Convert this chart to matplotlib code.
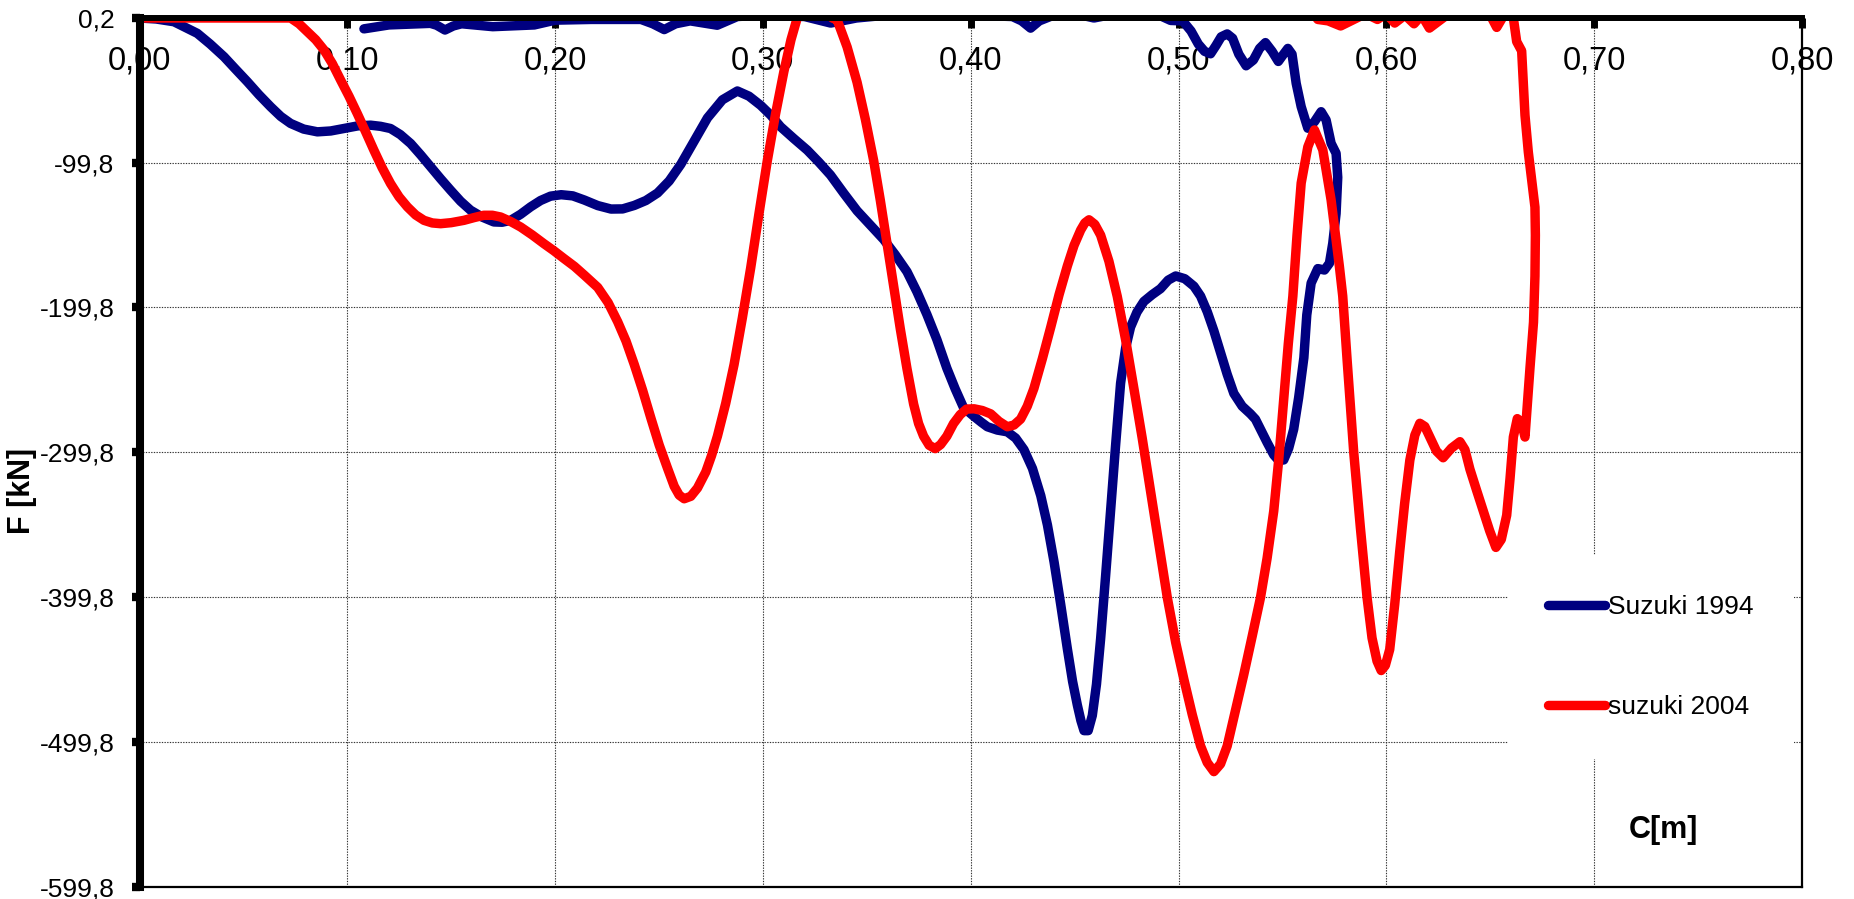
import matplotlib
matplotlib.use('Agg')
import matplotlib.pyplot as plt

plt.rcParams['font.family'] = ['Liberation Sans', 'DejaVu Sans']

# ---- data ----
x_1994 = [0.000, 0.008, 0.0166, 0.0278, 0.034, 0.0407, 0.046, 0.0519, 0.0575, 0.0631,
          0.068, 0.0727, 0.079, 0.0856, 0.092, 0.0984, 0.105, 0.1112, 0.116, 0.1208,
          0.1255, 0.1305, 0.1353, 0.1401, 0.1449, 0.1497, 0.1545, 0.1593, 0.165, 0.1705,
          0.1745, 0.1786, 0.1834, 0.1882, 0.193, 0.1978, 0.2029, 0.2085, 0.2141, 0.2205,
          0.2269, 0.2325, 0.2381, 0.2437, 0.2493, 0.2549, 0.2605, 0.2669, 0.2733, 0.2805,
          0.2877, 0.2933, 0.2989, 0.3037, 0.3085, 0.3149, 0.3213, 0.3269, 0.3325, 0.3389,
          0.3453, 0.3517, 0.3581, 0.3637, 0.3693, 0.3741, 0.3789, 0.3837, 0.3885, 0.3925,
          0.3965, 0.4016, 0.4050, 0.4080, 0.4128, 0.4176, 0.4216, 0.4256, 0.4297, 0.4337,
          0.4369, 0.4401, 0.4433, 0.4465, 0.4490, 0.4513, 0.4530, 0.4545, 0.4565, 0.4585,
          0.4605, 0.4625, 0.4649, 0.4673, 0.4697, 0.4721, 0.4745, 0.4769, 0.4800, 0.4833,
          0.4873, 0.4913, 0.4950, 0.4986, 0.5030, 0.5074, 0.5106, 0.5138, 0.5170, 0.5202,
          0.5234, 0.5266, 0.5306, 0.5346, 0.5370, 0.5394, 0.5426, 0.5458, 0.5482, 0.5506,
          0.5530, 0.5554, 0.5578, 0.5603, 0.5617, 0.5638, 0.5670, 0.5702, 0.5726, 0.5742,
          0.5758, 0.5766, 0.5758, 0.5734, 0.5710, 0.5686, 0.5654, 0.5622, 0.5590, 0.5566,
          0.5546, 0.5526, 0.5500, 0.5480, 0.5450, 0.5418, 0.5390, 0.5360, 0.5325, 0.5290,
          0.5260, 0.5234, 0.5205, 0.5180, 0.5154, 0.5125, 0.5095, 0.5060, 0.5020, 0.4962,
          0.4913, 0.4700, 0.4593, 0.4500, 0.4400, 0.4330, 0.4288, 0.4245, 0.4200, 0.4000,
          0.3800, 0.3600, 0.3450, 0.3326, 0.3200, 0.3000, 0.2877, 0.2780, 0.2650, 0.2580,
          0.2525, 0.2470, 0.2413, 0.2174, 0.2000, 0.1900, 0.1700, 0.1550, 0.1510, 0.1470,
          0.1430, 0.1400, 0.1200, 0.1080]
f_1994 = [0.0, -0.7, -2.6, -10.6, -18.0, -26.8, -35.0, -44.0, -53.0, -61.3,
          -68.0, -72.8, -76.7, -78.6, -78.0, -76.3, -74.5, -74.0, -74.8, -76.3,
          -80.5, -86.7, -94.5, -102.8, -111.0, -118.9, -126.5, -132.7, -137.5, -140.8,
          -141.0, -139.7, -135.5, -130.4, -126.0, -123.0, -122.0, -122.8, -125.7, -129.5,
          -131.9, -131.8, -129.4, -126.0, -120.8, -112.5, -101.0, -85.0, -69.0, -56.5,
          -50.4, -54.0, -60.3, -67.0, -75.1, -83.3, -91.2, -99.5, -108.4, -121.0,
          -133.1, -143.0, -152.9, -163.5, -175.1, -189.0, -204.7, -222.0, -241.8, -256.0,
          -268.9, -275.1, -279.0, -282.2, -284.5, -285.7, -290.0, -298.0, -311.0, -329.8,
          -350.0, -375.6, -405.0, -435.6, -458.0, -474.4, -485.0, -492.0, -492.0, -481.5,
          -460.0, -428.5, -385.0, -340.4, -295.0, -252.2, -228.0, -213.4, -203.0, -195.7,
          -191.0, -186.9, -181.0, -178.1, -180.0, -185.2, -192.0, -202.8, -216.0, -231.0,
          -246.0, -259.2, -268.0, -273.3, -277.0, -283.9, -293.0, -301.6, -305.5, -305.1,
          -297.0, -283.9, -262.0, -234.5, -205.0, -183.0, -173.0, -174.0, -169.3, -155.5,
          -135.0, -110.0, -93.4, -86.5, -70.4, -64.7, -71.6, -76.1, -61.2, -45.1,
          -25.0, -21.0, -26.0, -30.0, -23.0, -17.0, -21.0, -29.0, -33.0, -25.0,
          -14.0, -11.0, -13.0, -19.0, -24.7, -23.0, -18.0, -9.0, -2.0, -1.7,
          1.5, 3.0, 0.0, 3.0, 2.0, -2.0, -7.0, -2.0, 1.0, 2.0,
          3.0, 2.0, 0.0, -3.5, 1.0, 2.0, 1.0, -5.0, -2.0, -4.0,
          -8.0, -4.0, -1.0, -1.0, -1.5, -4.8, -6.0, -4.0, -5.5, -8.3,
          -5.0, -3.7, -4.8, -7.5]

x_2004 = [0.000, 0.0727, 0.0768, 0.0808, 0.0848, 0.0888, 0.0928, 0.0968, 0.1008, 0.1048,
          0.1088, 0.1128, 0.1168, 0.1208, 0.1249, 0.1289, 0.1329, 0.1369, 0.1409, 0.1449,
          0.1500, 0.1561, 0.1610, 0.1657, 0.1698, 0.1738, 0.1786, 0.1834, 0.1890, 0.1946,
          0.1994, 0.2042, 0.2093, 0.2141, 0.2205, 0.2255, 0.2301, 0.2341, 0.2381, 0.2421,
          0.2461, 0.2501, 0.2541, 0.2573, 0.2597, 0.2621, 0.2653, 0.2685, 0.2725, 0.2753,
          0.2781, 0.2821, 0.2861, 0.2901, 0.2941, 0.2981, 0.3021, 0.3061, 0.3101, 0.3135,
          0.3165, 0.3200, 0.3250, 0.3300, 0.3334, 0.3357, 0.3405, 0.3453, 0.3493, 0.3533,
          0.3565, 0.3597, 0.3629, 0.3661, 0.3693, 0.3725, 0.3749, 0.3773, 0.3800, 0.3829,
          0.3855, 0.3885, 0.3917, 0.3949, 0.3980, 0.4016, 0.4056, 0.4096, 0.4136, 0.4176,
          0.4208, 0.4240, 0.4272, 0.4304, 0.4345, 0.4385, 0.4425, 0.4465, 0.4497, 0.4529,
          0.4549, 0.4569, 0.4597, 0.4625, 0.4665, 0.4705, 0.4745, 0.4785, 0.4825, 0.4865,
          0.4905, 0.4946, 0.4986, 0.5026, 0.5066, 0.5106, 0.5138, 0.5170, 0.5202, 0.5234,
          0.5274, 0.5314, 0.5354, 0.5394, 0.5426, 0.5458, 0.5482, 0.5506, 0.5528, 0.5550,
          0.5570, 0.5590, 0.5622, 0.5654, 0.5694, 0.5734, 0.5774, 0.5790, 0.5811, 0.5843,
          0.5875, 0.5907, 0.5931, 0.5955, 0.5975, 0.5995, 0.6016, 0.6040, 0.6064, 0.6088,
          0.6113, 0.6137, 0.6161, 0.6185, 0.6209, 0.6241, 0.6273, 0.6313, 0.6354, 0.6378,
          0.6402, 0.6434, 0.6466, 0.6497, 0.6527, 0.6553, 0.6579, 0.6595, 0.6611, 0.6630,
          0.6650, 0.6667, 0.6691, 0.6708, 0.6715, 0.6717, 0.6715, 0.6683, 0.6667, 0.6651,
          0.6627, 0.6611, 0.6570, 0.6531, 0.6500, 0.6300, 0.6207, 0.6170, 0.6133, 0.6090,
          0.6040, 0.6000, 0.5957, 0.5900, 0.5780, 0.5720, 0.5670, 0.5650]
f_2004 = [0.0, 0.0, -4.0, -9.5, -15.0, -22.1, -31.5, -42.9, -54.0, -66.0,
          -78.5, -91.3, -103.5, -114.3, -123.5, -130.4, -136.0, -139.7, -141.5, -142.0,
          -141.3, -139.7, -137.8, -136.2, -136.2, -137.4, -140.5, -144.3, -149.8, -155.8,
          -160.7, -166.0, -171.5, -177.6, -186.0, -196.5, -209.7, -223.0, -239.3, -257.0,
          -276.3, -294.9, -310.9, -323.3, -329.4, -331.9, -330.2, -324.5, -313.4, -302.0,
          -288.7, -266.0, -239.3, -207.0, -172.6, -135.0, -98.6, -66.0, -36.8, -15.0,
          0.0, 10.0, 15.0, 10.0, 0.0, -1.3, -20.0, -44.4, -70.0, -98.6,
          -126.0, -155.4, -185.0, -214.6, -242.0, -266.5, -280.0, -288.7, -295.0, -297.3,
          -294.5, -288.7, -280.0, -273.9, -270.0, -269.8, -271.0, -273.3, -278.5, -282.2,
          -281.0, -276.9, -268.0, -255.7, -235.0, -213.4, -191.0, -171.1, -157.0, -146.4,
          -141.5, -139.3, -142.5, -149.9, -168.0, -192.2, -222.0, -255.7, -290.0, -326.3,
          -363.0, -400.3, -431.0, -456.8, -481.0, -502.6, -514.0, -520.3, -515.0, -502.6,
          -478.0, -453.2, -427.0, -400.3, -373.0, -340.4, -305.0, -262.8, -225.0, -192.0,
          -150.0, -114.0, -89.0, -77.3, -91.0, -125.6, -171.6, -192.0, -236.0, -300.0,
          -352.0, -400.0, -428.0, -444.0, -450.5, -447.0, -436.0, -405.0, -368.7, -335.0,
          -305.2, -288.0, -279.8, -282.0, -289.3, -299.0, -303.6, -297.0, -292.5, -298.0,
          -311.5, -326.0, -340.1, -354.0, -365.5, -360.0, -343.3, -318.0, -289.3, -276.6,
          -279.0, -289.3, -241.7, -210.0, -178.2, -150.0, -130.6, -92.5, -67.1, -22.7,
          -16.3, 0.0, 3.0, -6.5, 2.0, 3.0, -7.0, 2.0, -4.0, 2.0,
          -3.5, 3.0, -1.0, 3.0, -5.5, -2.0, -1.0, 3.0]

x_ticks = [0.0, 0.1, 0.2, 0.3, 0.4, 0.5, 0.6, 0.7, 0.8]
x_tick_labels = ['0,00', '0,10', '0,20', '0,30', '0,40', '0,50', '0,60', '0,70', '0,80']
y_ticks = [-599.8, -499.8, -399.8, -299.8, -199.8, -99.8, 0.2]
y_tick_labels = ['-599,8', '-499,8', '-399,8', '-299,8', '-199,8', '-99,8', '0,2']
series_names = ['Suzuki 1994', 'suzuki 2004']

assert len(x_1994) == len(f_1994) and len(x_2004) == len(f_2004)

# ---- figure ----
W, H = 1854, 899
fig = plt.figure(figsize=(W / 100, H / 100), dpi=100)
L, R, T, B = 139.5, 1802.0, 17.7, 886.8
ax = fig.add_axes([L / W, 1 - B / H, (R - L) / W, (B - T) / H])

line_kw = dict(lw=6.8, solid_capstyle='round', solid_joinstyle='round')
ax.plot(x_1994, f_1994, color='#000080', label=series_names[0], **line_kw)
ax.plot(x_2004, f_2004, color='#ff0000', label=series_names[1], **line_kw)

ax.set_xlim(0, 0.8)
ax.set_ylim(-599.8, 0.2)
ax.set_xticks(x_ticks)
ax.set_xticklabels(x_tick_labels)
ax.set_yticks(y_ticks)
ax.set_yticklabels(y_tick_labels)

ax.xaxis.tick_top()
ax.tick_params(axis='x', which='both', top=True, bottom=False, labeltop=True, labelbottom=False,
               direction='in', length=7, width=5, pad=-42, labelsize=23.5, color='black')
ax.tick_params(axis='y', direction='out', length=6, width=6, pad=12, labelsize=19, color='black')

ax.set_axisbelow(True)
ax.grid(True, color='#333333', linestyle=(0, (1.2, 1.2)), linewidth=0.8)

ax.spines['left'].set_linewidth(5.8)
ax.spines['top'].set_linewidth(4.3)
ax.spines['right'].set_linewidth(1.6)
ax.spines['bottom'].set_linewidth(1.6)
for s in ax.spines.values():
    s.set_color('black')
    s.set_zorder(4)

leg = ax.legend(loc='upper left', bbox_to_anchor=((1508 - L) / (R - L), 1 - (555 - T) / (B - T)),
                borderaxespad=0, fontsize=19, frameon=True, fancybox=False,
                edgecolor='none', facecolor='white', framealpha=1,
                borderpad=1.52, labelspacing=2.89, handlelength=2.15, handletextpad=0.12)

fig.text(1663 / W, 1 - 830 / H, 'C[m]', fontsize=22, fontweight='bold', ha='center', va='center')
fig.text(22 / W, 1 - 491 / H, 'F [kN]', fontsize=22, fontweight='bold', ha='center', va='center',
         rotation=90)

fig.savefig('out.png', dpi=100)
